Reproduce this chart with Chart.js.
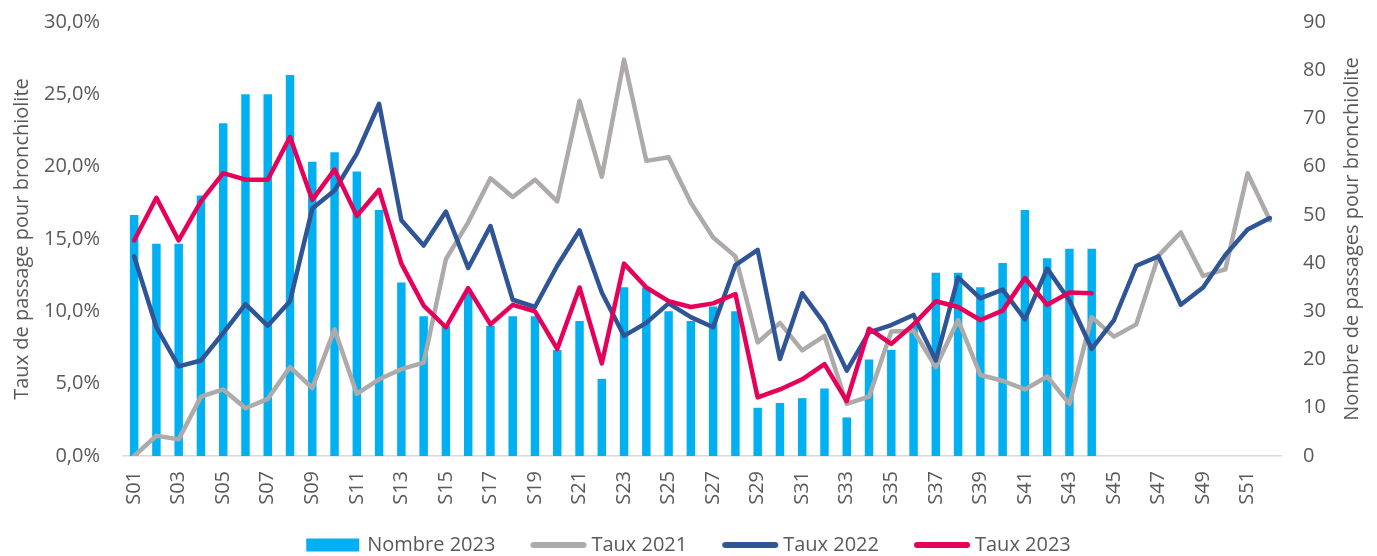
<!DOCTYPE html>
<html><head><meta charset="utf-8">
<script src="https://cdn.jsdelivr.net/npm/chart.js@4.4.1/dist/chart.umd.min.js"></script>
<style>html,body{margin:0;padding:0;background:#fff}</style></head>
<body>
<canvas id="c" width="1377" height="556"></canvas>
<script>
const weeks = ["S01","S02","S03","S04","S05","S06","S07","S08","S09","S10","S11","S12","S13","S14","S15","S16","S17","S18","S19","S20","S21","S22","S23","S24","S25","S26","S27","S28","S29","S30","S31","S32","S33","S34","S35","S36","S37","S38","S39","S40","S41","S42","S43","S44","S45","S46","S47","S48","S49","S50","S51","S52"];
const nombre2023 = [50,44,44,54,69,75,75,79,61,63,59,51,36,29,27,34,27,29,29,22,28,16,35,35,30,28,31,30,10,11,12,14,8,20,22,27,38,38,35,40,51,41,43,43];
const taux2021 = [0.0,1.4,1.15,4.1,4.6,3.3,3.95,6.15,4.7,8.75,4.3,5.3,6.0,6.45,13.6,16.15,19.2,17.9,19.1,17.6,24.55,19.3,27.4,20.4,20.65,17.5,15.1,13.8,7.85,9.2,7.3,8.3,3.6,4.1,8.6,8.65,6.15,9.4,5.6,5.2,4.6,5.5,3.6,9.6,8.25,9.1,13.85,15.45,12.45,12.9,19.55,16.3];
const taux2022 = [13.8,8.9,6.2,6.6,8.5,10.5,9.0,10.7,17.1,18.35,20.9,24.35,16.3,14.55,16.9,13.0,15.9,10.8,10.3,13.15,15.6,11.3,8.3,9.2,10.55,9.6,8.9,13.2,14.25,6.7,11.25,9.15,5.9,8.55,9.05,9.75,6.6,12.35,10.9,11.5,9.45,12.95,10.75,7.4,9.4,13.15,13.8,10.45,11.65,13.9,15.65,16.45];
const taux2023 = [14.9,17.85,14.9,17.6,19.55,19.1,19.1,22.05,17.7,19.8,16.6,18.4,13.3,10.4,8.9,11.6,9.1,10.45,10.0,7.4,11.65,6.4,13.3,11.65,10.7,10.3,10.55,11.2,4.05,4.6,5.3,6.35,3.8,8.8,7.75,9.1,10.7,10.3,9.4,10.05,12.3,10.45,11.3,11.25];
const seriesNames = ["Nombre 2023","Taux 2021","Taux 2022","Taux 2023"];
const leftTitle = "Taux de passage pour bronchiolite";
const rightTitle = "Nombre de passages pour bronchiolite";

const FONT = '"Open Sans", sans-serif';
const TXT = '#595959';
const C_BAR = '#00B0F0', C_21 = '#AEAAAA', C_22 = '#2F5597', C_23 = '#E6005A';

Chart.defaults.font.family = FONT;
Chart.defaults.color = TXT;

const BOXW = 76;
function legendIcon(kind, color) {
  const c = document.createElement('canvas');
  c.width = 100; c.height = 20;
  const g = c.getContext('2d');
  if (kind === 'box') {
    g.fillStyle = color;
    g.fillRect(37, 3.5, 53, 13);
  } else {
    g.strokeStyle = color; g.lineWidth = 6; g.lineCap = 'round';
    g.beginPath(); g.moveTo(40, 10); g.lineTo(90, 10); g.stroke();
  }
  return c;
}
const icons = [legendIcon('box', C_BAR), legendIcon('line', C_21), legendIcon('line', C_22), legendIcon('line', C_23)];

const lineBase = {type:'line', yAxisID:'y', pointRadius:0, pointHoverRadius:0, borderWidth:4.5, tension:0, borderJoinStyle:'round', borderCapStyle:'round', fill:false, spanGaps:false};

const rightTitlePlugin = {
  id: 'rightTitle',
  afterDraw(chart) {
    const ctx = chart.ctx, a = chart.chartArea;
    ctx.save();
    ctx.font = '20px ' + FONT;
    ctx.fillStyle = TXT;
    ctx.textAlign = 'center';
    ctx.textBaseline = 'middle';
    ctx.translate(1352, (a.top + a.bottom) / 2);
    ctx.rotate(-Math.PI / 2);
    ctx.fillText(rightTitle, 0, 0);
    ctx.restore();
  }
};

new Chart(document.getElementById('c'), {
  data: {
    labels: weeks,
    datasets: [
      {type:'bar', label: seriesNames[0], data: nombre2023, yAxisID:'y2', backgroundColor: C_BAR, borderWidth:0, barPercentage:0.38, categoryPercentage:1, order:4},
      Object.assign({}, lineBase, {label: seriesNames[1], data: taux2021, borderColor: C_21, backgroundColor: C_21, order:3}),
      Object.assign({}, lineBase, {label: seriesNames[2], data: taux2022, borderColor: C_22, backgroundColor: C_22, order:2}),
      Object.assign({}, lineBase, {label: seriesNames[3], data: taux2023, borderColor: C_23, backgroundColor: C_23, order:1})
    ]
  },
  options: {
    responsive: false,
    devicePixelRatio: 1,
    animation: false,
    layout: {padding: {top: 22, left: 0, right: 25, bottom: -9}},
    plugins: {
      tooltip: {enabled: false},
      legend: {
        position: 'bottom',
        labels: {
          usePointStyle: true,
          pointStyleWidth: BOXW,
          boxHeight: 20,
          padding: 10,
          color: TXT,
          font: {size: 20, family: FONT},
          generateLabels: (chart) => chart.data.datasets.map((ds, i) => ({
            text: ds.label, fillStyle: ds.backgroundColor, strokeStyle: ds.backgroundColor,
            lineWidth: 0, pointStyle: icons[i], hidden: false, datasetIndex: i, fontColor: TXT
          }))
        },
        onClick: () => {}
      }
    },
    scales: {
      x: {
        type: 'category',
        offset: true,
        grid: {display: false, drawTicks: true, tickLength: 15},
        border: {display: true, color: '#D9D9D9', width: 1.5},
        ticks: {
          autoSkip: false, maxRotation: 90, minRotation: 90, padding: 0,
          color: TXT, font: {size: 20, family: FONT},
          callback: function(v, i) { return i % 2 === 0 ? weeks[i] : ''; }
        },
        afterFit: (s) => { s.height = 69; }
      },
      y: {
        position: 'left', min: 0, max: 30,
        grid: {display: false, drawTicks: true, tickLength: 23},
        border: {display: false},
        ticks: {stepSize: 5, padding: 0, color: TXT, font: {size: 20, family: FONT},
          callback: (v) => v.toFixed(1).replace('.', ',') + '%'},
        title: {display: true, text: leftTitle, color: TXT, font: {size: 20, family: FONT}, padding: {top: 10, bottom: 0}},
        afterFit: (s) => { s.width = 123; }
      },
      y2: {
        position: 'right', min: 0, max: 90,
        grid: {display: false, drawTicks: true, tickLength: 22},
        border: {display: false},
        ticks: {stepSize: 10, padding: 0, color: TXT, font: {size: 20, family: FONT}},
        afterFit: (s) => { s.width = 71; }
      }
    }
  },
  plugins: [rightTitlePlugin]
});
</script>
</body></html>
